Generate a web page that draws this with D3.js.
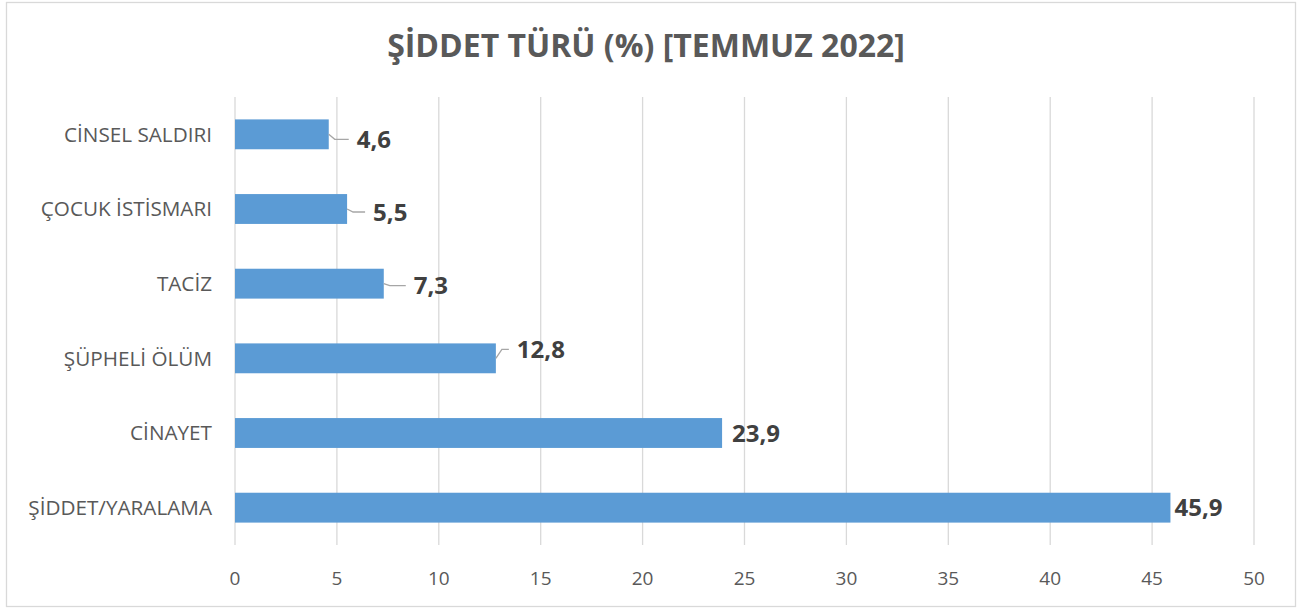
<!DOCTYPE html>
<html>
<head>
<meta charset="utf-8">
<title>Şiddet türü</title>
<script src="https://cdn.jsdelivr.net/npm/d3@7"></script>
<style>
  body { margin: 0; background: #fff; }
  text { font-family: "Open Sans", "Noto Sans", sans-serif; }
  .grid line { stroke: #d9d9d9; stroke-width: 1.3; }
  .bar { fill: #5b9bd5; }
  .cat { fill: #595959; font-size: 20.7px; }
  .tick-lbl { fill: #595959; font-size: 19px; }
  .val { fill: #404040; font-size: 24px; font-weight: bold; }
  .leader { stroke: #a6a6a6; stroke-width: 1.3; fill: none; }
</style>
</head>
<body>
<div id="chart"></div>
<script>
// values, bottom to top
var categories = ["ŞİDDET/YARALAMA", "CİNAYET", "ŞÜPHELİ ÖLÜM", "TACİZ", "ÇOCUK İSTİSMARI", "CİNSEL SALDIRI"];
var values = [45.9, 23.9, 12.8, 7.3, 5.5, 4.6];
var ticks = [0, 5, 10, 15, 20, 25, 30, 35, 40, 45, 50];
var title = "ŞİDDET TÜRÜ (%) [TEMMUZ 2022]";

// label tweaks (leader lines for the short bars, like the excel original)
var labelGap = [4, 10, 21, 30, 26, 28];
var labelDy = [0, 0, -9, 2, 3, 5];
var hasLeader = [false, false, true, true, true, true];

var W = 1312, H = 612;
var margin = {top: 97, right: 58, bottom: 67, left: 235};
var width = 1254 - margin.left, height = 545 - margin.top;

var svg = d3.select("#chart").append("svg").attr("width", W).attr("height", H);

svg.append("rect")
  .attr("x", 6.5).attr("y", 2.5).attr("width", 1289).attr("height", 604)
  .attr("fill", "#fff").attr("stroke", "#d9d9d9").attr("stroke-width", 1.3);

svg.append("text")
  .attr("x", 646).attr("y", 57)
  .attr("text-anchor", "middle")
  .style("font-size", "32px").style("font-weight", "bold").style("fill", "#595959")
  .text(title);

var x = d3.scaleLinear().domain([0, 50]).range([0, width]);
var y = d3.scaleBand().domain(categories.slice().reverse()).range([0, height]).paddingInner(0.6).paddingOuter(0.3);

var g = svg.append("g").attr("transform", "translate(" + margin.left + "," + margin.top + ")");

g.append("g").attr("class", "grid")
  .selectAll("line").data(ticks).enter().append("line")
  .attr("x1", function(d) { return x(d); })
  .attr("x2", function(d) { return x(d); })
  .attr("y1", 0).attr("y2", height);

g.selectAll(".tick-lbl").data(ticks).enter().append("text")
  .attr("class", "tick-lbl")
  .attr("x", function(d) { return x(d); })
  .attr("y", height + 40)
  .attr("text-anchor", "middle")
  .text(function(d) { return d; });

g.selectAll(".cat").data(categories).enter().append("text")
  .attr("class", "cat")
  .attr("x", -23)
  .attr("y", function(d) { return y(d) + y.bandwidth() / 2; })
  .attr("dy", "0.35em")
  .attr("text-anchor", "end")
  .text(function(d) { return d; });

g.selectAll(".bar").data(values).enter().append("rect")
  .attr("class", "bar")
  .attr("x", 0)
  .attr("y", function(d, i) { return y(categories[i]); })
  .attr("width", function(d) { return x(d); })
  .attr("height", y.bandwidth());

g.selectAll(".leader").data(values.filter(function(d, i) { return hasLeader[i]; })).enter()
  .append("polyline")
  .attr("class", "leader")
  .attr("points", function(d) {
    var i = values.indexOf(d);
    var cy = y(categories[i]) + y.bandwidth() / 2;
    var ly = cy + labelDy[i];
    var x0 = x(d);
    return [[x0, cy], [x0 + Math.min(6, labelGap[i] / 3), ly], [x0 + labelGap[i] - 8, ly]].join(" ");
  });

g.selectAll(".val").data(values).enter().append("text")
  .attr("class", "val")
  .attr("x", function(d, i) { return x(d) + labelGap[i]; })
  .attr("y", function(d, i) { return y(categories[i]) + y.bandwidth() / 2 + labelDy[i]; })
  .attr("dy", "0.36em")
  .text(function(d) { return String(d).replace(".", ","); });
</script>
</body>
</html>
